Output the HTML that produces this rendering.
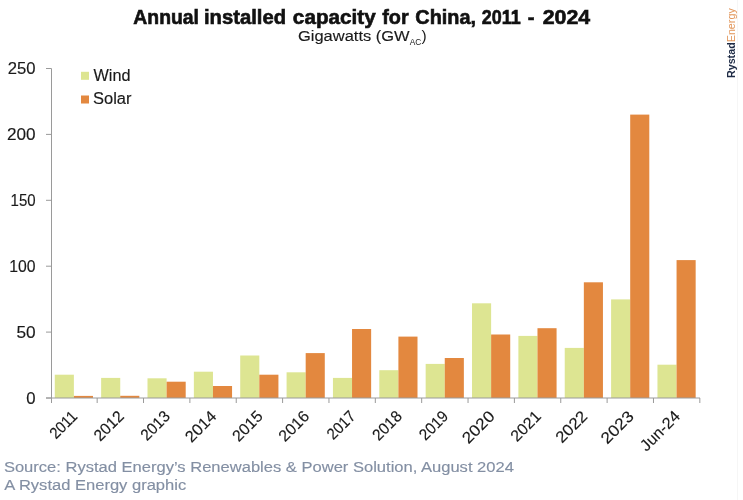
<!DOCTYPE html>
<html><head><meta charset="utf-8"><style>
html,body{margin:0;padding:0;background:#fff;}
body{width:743px;height:500px;overflow:hidden;position:relative;font-family:"Liberation Sans",sans-serif;}
svg{position:absolute;left:0;top:0;will-change:transform;}
text{font-family:"Liberation Sans",sans-serif;}
.yl{font-size:16px;fill:#1a1a1a;stroke:#1a1a1a;stroke-width:0.15px;}
.xl{font-size:16px;fill:#1a1a1a;stroke:#1a1a1a;stroke-width:0.15px;}
.rg{stroke:#1a1a1a;stroke-width:0.15px;}
.sr{stroke:#838fa3;stroke-width:0.15px;}
</style></head><body>
<svg width="743" height="500" viewBox="0 0 743 500">
<rect x="737" y="0" width="1" height="500" fill="#f6f6f6"/>
<text x="133.34" y="24.2" textLength="65.66" lengthAdjust="spacingAndGlyphs" font-weight="bold" font-size="19.5" fill="#111" stroke="#111" stroke-width="0.6">Annual</text>
<text x="203.96" y="24.2" textLength="82.04" lengthAdjust="spacingAndGlyphs" font-weight="bold" font-size="19.5" fill="#111" stroke="#111" stroke-width="0.6">installed</text>
<text x="292.88" y="24.2" textLength="82.78" lengthAdjust="spacingAndGlyphs" font-weight="bold" font-size="19.5" fill="#111" stroke="#111" stroke-width="0.6">capacity</text>
<text x="382.22" y="24.2" textLength="26.44" lengthAdjust="spacingAndGlyphs" font-weight="bold" font-size="19.5" fill="#111" stroke="#111" stroke-width="0.6">for</text>
<text x="415.34" y="24.2" textLength="60.66" lengthAdjust="spacingAndGlyphs" font-weight="bold" font-size="19.5" fill="#111" stroke="#111" stroke-width="0.6">China,</text>
<text x="481.80" y="24.2" textLength="38.90" lengthAdjust="spacingAndGlyphs" font-weight="bold" font-size="19.5" fill="#111" stroke="#111" stroke-width="0.6">2011</text>
<text x="527.84" y="24.2" textLength="6.74" lengthAdjust="spacingAndGlyphs" font-weight="bold" font-size="19.5" fill="#111" stroke="#111" stroke-width="0.6">-</text>
<text x="542.72" y="24.2" textLength="47.44" lengthAdjust="spacingAndGlyphs" font-weight="bold" font-size="19.5" fill="#111" stroke="#111" stroke-width="0.6">2024</text>
<text x="298" y="41" textLength="111.6" lengthAdjust="spacingAndGlyphs" font-size="15.4" fill="#1a1a1a" class="rg">Gigawatts (GW</text>
<text x="409.8" y="44.6" textLength="11.6" lengthAdjust="spacingAndGlyphs" font-size="8.8" fill="#1a1a1a">AC</text>
<text x="421.6" y="41" font-size="15.4" fill="#1a1a1a">)</text>
<rect x="81" y="71.8" width="8" height="8" fill="#dde592"/>
<rect x="81" y="95.5" width="8" height="8" fill="#e3883f"/>
<text x="93.5" y="80.5" font-size="16" textLength="37" lengthAdjust="spacingAndGlyphs" fill="#1a1a1a" class="rg">Wind</text>
<text x="93" y="104.1" font-size="16" textLength="38.5" lengthAdjust="spacingAndGlyphs" fill="#1a1a1a" class="rg">Solar</text>
<rect x="54.78" y="374.70" width="19.10" height="23.30" fill="#dde592"/>
<rect x="73.88" y="395.90" width="19.10" height="2.10" fill="#e3883f"/>
<rect x="101.14" y="377.90" width="19.10" height="20.10" fill="#dde592"/>
<rect x="120.24" y="395.80" width="19.10" height="2.20" fill="#e3883f"/>
<rect x="147.50" y="378.30" width="19.10" height="19.70" fill="#dde592"/>
<rect x="166.60" y="381.70" width="19.10" height="16.30" fill="#e3883f"/>
<rect x="193.86" y="371.70" width="19.10" height="26.30" fill="#dde592"/>
<rect x="212.96" y="386.00" width="19.10" height="12.00" fill="#e3883f"/>
<rect x="240.22" y="355.50" width="19.10" height="42.50" fill="#dde592"/>
<rect x="259.32" y="374.70" width="19.10" height="23.30" fill="#e3883f"/>
<rect x="286.58" y="372.30" width="19.10" height="25.70" fill="#dde592"/>
<rect x="305.68" y="353.10" width="19.10" height="44.90" fill="#e3883f"/>
<rect x="332.94" y="377.90" width="19.10" height="20.10" fill="#dde592"/>
<rect x="352.04" y="329.00" width="19.10" height="69.00" fill="#e3883f"/>
<rect x="379.30" y="370.20" width="19.10" height="27.80" fill="#dde592"/>
<rect x="398.40" y="336.60" width="19.10" height="61.40" fill="#e3883f"/>
<rect x="425.66" y="363.90" width="19.10" height="34.10" fill="#dde592"/>
<rect x="444.76" y="358.00" width="19.10" height="40.00" fill="#e3883f"/>
<rect x="472.02" y="303.30" width="19.10" height="94.70" fill="#dde592"/>
<rect x="491.12" y="334.50" width="19.10" height="63.50" fill="#e3883f"/>
<rect x="518.38" y="335.90" width="19.10" height="62.10" fill="#dde592"/>
<rect x="537.48" y="328.20" width="19.10" height="69.80" fill="#e3883f"/>
<rect x="564.74" y="347.90" width="19.10" height="50.10" fill="#dde592"/>
<rect x="583.84" y="282.30" width="19.10" height="115.70" fill="#e3883f"/>
<rect x="611.10" y="299.40" width="19.10" height="98.60" fill="#dde592"/>
<rect x="630.20" y="114.60" width="19.10" height="283.40" fill="#e3883f"/>
<rect x="657.46" y="364.70" width="19.10" height="33.30" fill="#dde592"/>
<rect x="676.56" y="260.10" width="19.10" height="137.90" fill="#e3883f"/>
<line x1="46" y1="398.0" x2="700" y2="398.0" stroke="#9a9a9a" stroke-width="1"/>
<line x1="51.5" y1="68.5" x2="51.5" y2="403" stroke="#9a9a9a" stroke-width="1"/>
<line x1="46" y1="398.00" x2="51.5" y2="398.00" stroke="#9a9a9a" stroke-width="1"/>
<text x="26.30" y="403.80" textLength="9.3" lengthAdjust="spacingAndGlyphs" class="yl">0</text>
<line x1="46" y1="332.10" x2="51.5" y2="332.10" stroke="#9a9a9a" stroke-width="1"/>
<text x="16.40" y="337.90" textLength="19.2" lengthAdjust="spacingAndGlyphs" class="yl">50</text>
<line x1="46" y1="266.20" x2="51.5" y2="266.20" stroke="#9a9a9a" stroke-width="1"/>
<text x="9.30" y="272.00" textLength="26.3" lengthAdjust="spacingAndGlyphs" class="yl">100</text>
<line x1="46" y1="200.30" x2="51.5" y2="200.30" stroke="#9a9a9a" stroke-width="1"/>
<text x="10.60" y="206.10" textLength="25.0" lengthAdjust="spacingAndGlyphs" class="yl">150</text>
<line x1="46" y1="134.40" x2="51.5" y2="134.40" stroke="#9a9a9a" stroke-width="1"/>
<text x="7.00" y="140.20" textLength="28.6" lengthAdjust="spacingAndGlyphs" class="yl">200</text>
<line x1="46" y1="68.50" x2="51.5" y2="68.50" stroke="#9a9a9a" stroke-width="1"/>
<text x="7.80" y="74.30" textLength="27.8" lengthAdjust="spacingAndGlyphs" class="yl">250</text>
<line x1="97.16" y1="398.0" x2="97.16" y2="403" stroke="#9a9a9a" stroke-width="1"/>
<line x1="143.52" y1="398.0" x2="143.52" y2="403" stroke="#9a9a9a" stroke-width="1"/>
<line x1="189.88" y1="398.0" x2="189.88" y2="403" stroke="#9a9a9a" stroke-width="1"/>
<line x1="236.24" y1="398.0" x2="236.24" y2="403" stroke="#9a9a9a" stroke-width="1"/>
<line x1="282.60" y1="398.0" x2="282.60" y2="403" stroke="#9a9a9a" stroke-width="1"/>
<line x1="328.96" y1="398.0" x2="328.96" y2="403" stroke="#9a9a9a" stroke-width="1"/>
<line x1="375.32" y1="398.0" x2="375.32" y2="403" stroke="#9a9a9a" stroke-width="1"/>
<line x1="421.68" y1="398.0" x2="421.68" y2="403" stroke="#9a9a9a" stroke-width="1"/>
<line x1="468.04" y1="398.0" x2="468.04" y2="403" stroke="#9a9a9a" stroke-width="1"/>
<line x1="514.40" y1="398.0" x2="514.40" y2="403" stroke="#9a9a9a" stroke-width="1"/>
<line x1="560.76" y1="398.0" x2="560.76" y2="403" stroke="#9a9a9a" stroke-width="1"/>
<line x1="607.12" y1="398.0" x2="607.12" y2="403" stroke="#9a9a9a" stroke-width="1"/>
<line x1="653.48" y1="398.0" x2="653.48" y2="403" stroke="#9a9a9a" stroke-width="1"/>
<line x1="699.84" y1="398.0" x2="699.84" y2="403" stroke="#9a9a9a" stroke-width="1"/>
<text x="78.46" y="417.30" text-anchor="end" textLength="31.9" lengthAdjust="spacingAndGlyphs" transform="rotate(-45 78.46 417.30)" class="xl">2011</text>
<text x="124.82" y="417.30" text-anchor="end" textLength="34.8" lengthAdjust="spacingAndGlyphs" transform="rotate(-45 124.82 417.30)" class="xl">2012</text>
<text x="171.18" y="417.30" text-anchor="end" textLength="34.2" lengthAdjust="spacingAndGlyphs" transform="rotate(-45 171.18 417.30)" class="xl">2013</text>
<text x="217.54" y="417.30" text-anchor="end" textLength="36.8" lengthAdjust="spacingAndGlyphs" transform="rotate(-45 217.54 417.30)" class="xl">2014</text>
<text x="263.90" y="417.30" text-anchor="end" textLength="35.6" lengthAdjust="spacingAndGlyphs" transform="rotate(-45 263.90 417.30)" class="xl">2015</text>
<text x="310.26" y="417.30" text-anchor="end" textLength="35.6" lengthAdjust="spacingAndGlyphs" transform="rotate(-45 310.26 417.30)" class="xl">2016</text>
<text x="356.62" y="417.30" text-anchor="end" textLength="32.9" lengthAdjust="spacingAndGlyphs" transform="rotate(-45 356.62 417.30)" class="xl">2017</text>
<text x="402.98" y="417.30" text-anchor="end" textLength="34.3" lengthAdjust="spacingAndGlyphs" transform="rotate(-45 402.98 417.30)" class="xl">2018</text>
<text x="449.34" y="417.30" text-anchor="end" textLength="33.8" lengthAdjust="spacingAndGlyphs" transform="rotate(-45 449.34 417.30)" class="xl">2019</text>
<text x="495.70" y="417.30" text-anchor="end" textLength="38.4" lengthAdjust="spacingAndGlyphs" transform="rotate(-45 495.70 417.30)" class="xl">2020</text>
<text x="542.06" y="417.30" text-anchor="end" textLength="35.6" lengthAdjust="spacingAndGlyphs" transform="rotate(-45 542.06 417.30)" class="xl">2021</text>
<text x="588.42" y="417.30" text-anchor="end" textLength="37.5" lengthAdjust="spacingAndGlyphs" transform="rotate(-45 588.42 417.30)" class="xl">2022</text>
<text x="634.78" y="417.30" text-anchor="end" textLength="38.8" lengthAdjust="spacingAndGlyphs" transform="rotate(-45 634.78 417.30)" class="xl">2023</text>
<text x="681.14" y="417.30" text-anchor="end" transform="rotate(-45 681.14 417.30)" class="xl">Jun-24</text>
<text x="3.9" y="471.9" font-size="15.3" textLength="510" lengthAdjust="spacingAndGlyphs" fill="#838fa3" class="sr">Source: Rystad Energy’s Renewables &amp; Power Solution, August 2024</text>
<text x="4.2" y="490.0" font-size="15.3" textLength="182" lengthAdjust="spacingAndGlyphs" fill="#838fa3" class="sr">A Rystad Energy graphic</text>
<g transform="translate(734.8 78.1) rotate(-90)"><text x="0" y="0" font-size="10.3" textLength="69.9" lengthAdjust="spacingAndGlyphs" font-weight="bold" fill="#1e2b45">Rystad<tspan font-weight="normal" fill="#e2965a">Energy</tspan></text></g>
</svg>
</body></html>
